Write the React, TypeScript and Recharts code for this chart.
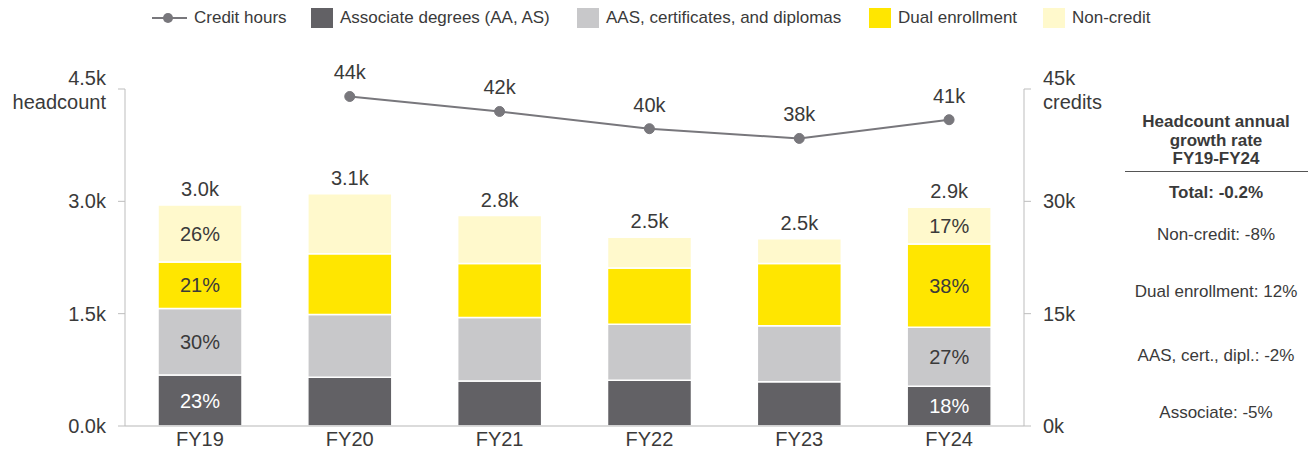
import React from "react";
import { ComposedChart, Bar, Line, XAxis, YAxis, LabelList } from "recharts";

const years = ["FY19", "FY20", "FY21", "FY22", "FY23", "FY24"];
const associate = [680, 650, 600, 610, 590, 530];
const aasCert = [890, 840, 850, 750, 750, 790];
const dualEnroll = [620, 810, 720, 750, 830, 1110];
const nonCredit = [760, 800, 640, 410, 330, 490];
const creditHours: (number | null)[] = [null, 44000, 42000, 39700, 38400, 40900];

const totalLabels = ["3.0k", "3.1k", "2.8k", "2.5k", "2.5k", "2.9k"];
const creditLabels = ["", "44k", "42k", "40k", "38k", "41k"];
const associatePct = ["23%", "", "", "", "", "18%"];
const aasPct = ["30%", "", "", "", "", "27%"];
const dualPct = ["21%", "", "", "", "", "38%"];
const nonCreditPct = ["26%", "", "", "", "", "17%"];

const leftTicks = [0, 1500, 3000, 4500];
const leftTickLabels = ["0.0k", "1.5k", "3.0k", "4.5k"];
const rightTicks = [0, 15000, 30000, 45000];
const rightTickLabels = ["0k", "15k", "30k", "45k"];

const growthTitle = ["Headcount annual", "growth rate", "FY19-FY24"];
const growthTotal = "Total: -0.2%";
const growthRows = ["Non-credit: -8%", "Dual enrollment: 12%", "AAS, cert., dipl.: -2%", "Associate: -5%"];

const legendItems = [
  { label: "Credit hours", type: "line", color: "#78777c" },
  { label: "Associate degrees (AA, AS)", type: "box", color: "#626165" },
  { label: "AAS, certificates, and diplomas", type: "box", color: "#c8c8ca" },
  { label: "Dual enrollment", type: "box", color: "#ffe600" },
  { label: "Non-credit", type: "box", color: "#fff9cc" },
];
const legendLefts = [152, 311, 577, 869, 1043];

const FONT = "'Liberation Sans', Arial, sans-serif";
const TXT = "#3a3a3a";

const data = years.map((y, i) => ({
  year: y,
  associate: associate[i],
  aas: aasCert[i],
  dual: dualEnroll[i],
  nonCredit: nonCredit[i],
  credits: creditHours[i],
}));

const pctContent = (labels: string[], color: string) => (props: any) => {
  const { x, y, width, height, index } = props;
  const t = labels[index];
  if (!t) return null;
  return (
    <text x={x + width / 2} y={y + height / 2} dy="0.35em" textAnchor="middle" fill={color} fontSize={20} fontFamily={FONT}>
      {t}
    </text>
  );
};

const totalContent = (props: any) => {
  const { x, y, width, index } = props;
  return (
    <text x={x + width / 2} y={y - 16} dy="0.35em" textAnchor="middle" fill={TXT} fontSize={20} fontFamily={FONT}>
      {totalLabels[index]}
    </text>
  );
};

const creditContent = (props: any) => {
  const { x, y, index } = props;
  const t = creditLabels[index];
  if (!t || creditHours[index] == null) return null;
  return (
    <text x={x} y={y - 24} dy="0.35em" textAnchor="middle" fill={TXT} fontSize={20} fontFamily={FONT}>
      {t}
    </text>
  );
};

const LeftTick = (props: any) => {
  const { x, y, payload } = props;
  const i = leftTicks.indexOf(payload.value);
  if (payload.value === 4500) {
    return (
      <g>
        <text x={x} y={y - 11} dy="0.35em" textAnchor="end" fill={TXT} fontSize={20} fontFamily={FONT}>{leftTickLabels[i]}</text>
        <text x={x} y={y + 13} dy="0.35em" textAnchor="end" fill={TXT} fontSize={20} fontFamily={FONT}>headcount</text>
      </g>
    );
  }
  return (
    <text x={x} y={y} dy="0.35em" textAnchor="end" fill={TXT} fontSize={20} fontFamily={FONT}>{leftTickLabels[i]}</text>
  );
};

const RightTick = (props: any) => {
  const { x, y, payload } = props;
  const i = rightTicks.indexOf(payload.value);
  if (payload.value === 45000) {
    return (
      <g>
        <text x={x} y={y - 11} dy="0.35em" textAnchor="start" fill={TXT} fontSize={20} fontFamily={FONT}>{rightTickLabels[i]}</text>
        <text x={x} y={y + 13} dy="0.35em" textAnchor="start" fill={TXT} fontSize={20} fontFamily={FONT}>credits</text>
      </g>
    );
  }
  return (
    <text x={x} y={y} dy="0.35em" textAnchor="start" fill={TXT} fontSize={20} fontFamily={FONT}>{rightTickLabels[i]}</text>
  );
};

const XTick = (props: any) => {
  const { x, y, payload } = props;
  return (
    <text x={x} y={y} dy="0.71em" textAnchor="middle" fill={TXT} fontSize={20} fontFamily={FONT}>{payload.value}</text>
  );
};

export default function App() {
  return (
    <div style={{ position: "absolute", left: 0, top: 0, width: 1308, height: 457, background: "#fff", fontFamily: FONT, color: TXT }}>
      {legendItems.map((it, k) => (
        <div
          key={k}
          style={{ position: "absolute", left: legendLefts[k], top: 8, height: 20, display: "flex", alignItems: "center", fontSize: 17, whiteSpace: "nowrap" }}
        >
          {it.type === "line" ? (
            <svg width={35} height={20} style={{ marginRight: 7 }}>
              <line x1={0} y1={10} x2={35} y2={10} stroke={it.color} strokeWidth={2} />
              <circle cx={16} cy={10} r={5} fill={it.color} />
            </svg>
          ) : (
            <div style={{ width: 22, height: 20, background: it.color, marginRight: 7 }} />
          )}
          <span>{it.label}</span>
        </div>
      ))}

      <div style={{ position: "absolute", left: 0, top: 0 }}>
        <ComposedChart width={1120} height={457} data={data} margin={{ top: 89, right: 36, bottom: 6, left: 65 }}>
          <XAxis
            dataKey="year"
            height={25}
            tick={<XTick />}
            tickLine={false}
            tickSize={0}
            tickMargin={6}
            axisLine={{ stroke: "#cfcfcf", strokeWidth: 1.5 }}
          />
          <YAxis
            yAxisId="left"
            width={60}
            domain={[0, 4500]}
            ticks={leftTicks}
            tick={<LeftTick />}
            tickSize={7}
            tickMargin={12}
            tickLine={{ stroke: "#bdbdbd" }}
            axisLine={{ stroke: "#bdbdbd" }}
            interval={0}
          />
          <YAxis
            yAxisId="right"
            orientation="right"
            width={60}
            domain={[0, 45000]}
            ticks={rightTicks}
            tick={<RightTick />}
            tickSize={7}
            tickMargin={12}
            tickLine={{ stroke: "#bdbdbd" }}
            axisLine={{ stroke: "#bdbdbd" }}
            interval={0}
          />
          <Bar yAxisId="left" dataKey="associate" stackId="a" fill="#626165" stroke="#fff" strokeWidth={1.5} barSize={84} isAnimationActive={false}>
            <LabelList dataKey="associate" content={pctContent(associatePct, "#ffffff")} />
          </Bar>
          <Bar yAxisId="left" dataKey="aas" stackId="a" fill="#c8c8ca" stroke="#fff" strokeWidth={1.5} barSize={84} isAnimationActive={false}>
            <LabelList dataKey="aas" content={pctContent(aasPct, TXT)} />
          </Bar>
          <Bar yAxisId="left" dataKey="dual" stackId="a" fill="#ffe600" stroke="#fff" strokeWidth={1.5} barSize={84} isAnimationActive={false}>
            <LabelList dataKey="dual" content={pctContent(dualPct, TXT)} />
          </Bar>
          <Bar yAxisId="left" dataKey="nonCredit" stackId="a" fill="#fff9cc" stroke="#fff" strokeWidth={1.5} barSize={84} isAnimationActive={false}>
            <LabelList dataKey="nonCredit" content={pctContent(nonCreditPct, TXT)} />
            <LabelList dataKey="nonCredit" content={totalContent} />
          </Bar>
          <Line
            yAxisId="right"
            dataKey="credits"
            stroke="#78777c"
            strokeWidth={2}
            dot={{ r: 5, fill: "#78777c", stroke: "#78777c", strokeWidth: 1 }}
            activeDot={false}
            isAnimationActive={false}
          >
            <LabelList dataKey="credits" content={creditContent} />
          </Line>
        </ComposedChart>
      </div>

      <div style={{ position: "absolute", left: 1116, top: 113, width: 200, textAlign: "center", fontWeight: "bold", fontSize: 17, lineHeight: "18.5px" }}>
        {growthTitle.map((t, k) => (
          <div key={k}>{t}</div>
        ))}
      </div>
      <div style={{ position: "absolute", left: 1125, top: 171, width: 183, height: 0, borderTop: "1.5px solid #555" }} />
      <div style={{ position: "absolute", left: 1116, top: 183, width: 200, textAlign: "center", fontWeight: "bold", fontSize: 17, lineHeight: "20px" }}>
        {growthTotal}
      </div>
      {growthRows.map((t, k) => (
        <div
          key={k}
          style={{ position: "absolute", left: 1116, top: [225, 282, 346, 403][k], width: 200, textAlign: "center", fontSize: 17, lineHeight: "20px" }}
        >
          {t}
        </div>
      ))}
    </div>
  );
}
